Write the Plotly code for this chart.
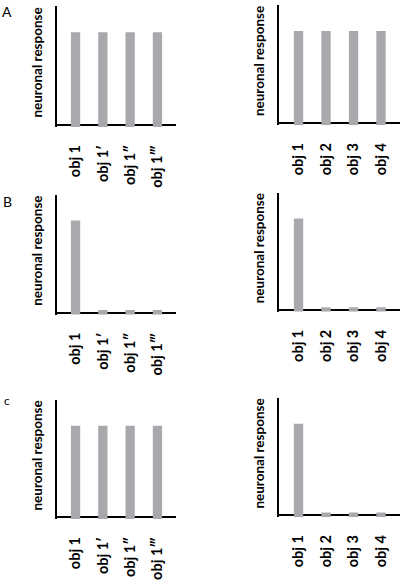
import plotly.graph_objects as go

# data (arbitrary units, 0-100 scale)
same_objects = ["obj 1", "obj 1\u2032", "obj 1\u2033", "obj 1\u2034"]
diff_objects = ["obj 1", "obj 2", "obj 3", "obj 4"]

a_left = [78, 78, 78, 78]
a_right = [78, 78, 78, 78]
b_left = [78, 2.5, 2.5, 2.5]
b_right = [78, 2.5, 2.5, 2.5]
c_left = [78, 78, 78, 78]
c_right = [78, 2.5, 2.5, 2.5]

panel_letters = ["A", "B", "c"]
y_title = "neuronal response"

BAR_COLOR = "#a7a9ac"
FONT = "Lato"
BASE = -1.5

# subplot boxes in px: (left, right, top, baseline)
boxes = [
    (57, 176, 6, 130), (279, 400, 5, 128),
    (57, 176, 199, 322), (279, 400, 197, 319),
    (57, 176, 409, 531), (279, 400, 407, 529),
]
W, H = 400, 580

panels = [
    (same_objects, a_left), (diff_objects, a_right),
    (same_objects, b_left), (diff_objects, b_right),
    (same_objects, c_left), (diff_objects, c_right),
]

fig = go.Figure()
layout = {}
annotations = []
for i, ((cats, vals), (x0, x1, top, base)) in enumerate(zip(panels, boxes)):
    n = "" if i == 0 else str(i + 1)
    fig.add_trace(go.Bar(
        x=list(range(len(cats))), y=[v - BASE for v in vals], base=BASE,
        width=0.34, marker=dict(color=BAR_COLOR, line=dict(width=0)),
        xaxis="x" + n, yaxis="y" + n, showlegend=False, hoverinfo="skip",
    ))
    xr = [-0.68, 3.68] if i % 2 == 0 else [-0.71, 3.69]
    layout["xaxis" + n] = dict(
        domain=[x0 / W, x1 / W], range=xr, anchor="y" + n,
        tickmode="array", tickvals=list(range(len(cats))), ticktext=cats,
        tickangle=-90, showline=False, showgrid=False, zeroline=False,
        ticks="", ticklabelstandoff=14,
        tickfont=dict(family=FONT, size=14.5, color="black", weight="bold"),
    )
    layout["yaxis" + n] = dict(
        domain=[1 - base / H, 1 - top / H], range=[BASE, 100], anchor="x" + n,
        showline=True, linecolor="black", linewidth=2,
        showticklabels=False, ticks="", showgrid=False,
        zeroline=True, zerolinecolor="black", zerolinewidth=2,
    )
    # y axis title, placed by hand like in the figure
    annotations.append(dict(
        text=y_title, textangle=-90, x=(x0 - 20) / W, y=1 - ((top + base) / 2 - 4) / H,
        xref="paper", yref="paper", showarrow=False,
        xanchor="center", yanchor="middle",
        font=dict(family=FONT, size=13.5, color="black", weight="bold"),
    ))

for letter, (ypx, size) in zip(panel_letters, [(12, 14), (206, 14), (410, 12)]):
    annotations.append(dict(
        text=letter, x=7 / W, y=1 - ypx / H, xref="paper", yref="paper",
        showarrow=False, xanchor="center", yanchor="middle",
        font=dict(family=FONT, size=size, color="black"),
    ))

fig.update_layout(
    width=W, height=H, margin=dict(l=0, r=0, t=0, b=0),
    paper_bgcolor="white", plot_bgcolor="white",
    annotations=annotations, **layout,
)

# the page body has a default 8px margin, drop it so the figure sits at 0,0
fig.write_html("out.html", config={"displayModeBar": False},
               post_script="document.body.style.margin='0';")
